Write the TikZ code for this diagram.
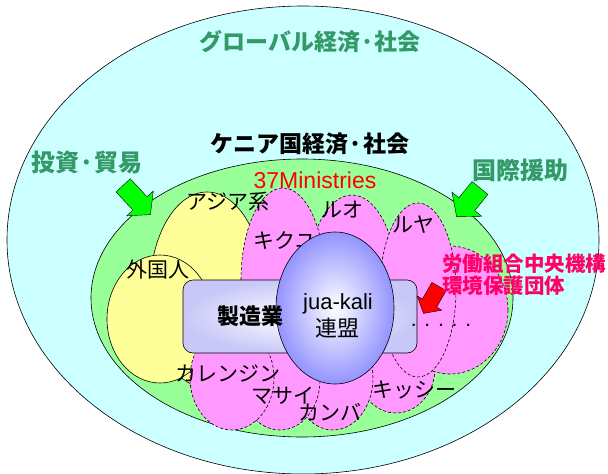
\documentclass[tikz,border=0pt]{standalone}
\usepackage{fontspec}
\setmainfont{Liberation Sans}
\newfontfamily\jp{Noto Sans CJK JP}
\usetikzlibrary{shapes.geometric,shapes.arrows}
\definecolor{bgcyan}{HTML}{CCFFFF}
\definecolor{lgreen}{HTML}{99FF99}
\definecolor{lyellow}{HTML}{FFFF99}
\definecolor{lpink}{HTML}{FF99FF}
\definecolor{dgreen}{HTML}{339966}
\definecolor{brgreen}{HTML}{00FF00}
\definecolor{lav}{HTML}{C8C8F8}
\definecolor{bluev}{HTML}{9393FF}
\definecolor{magred}{HTML}{FF0066}
\tikzset{
  oval/.style={ellipse, inner sep=0pt, draw=black, line width=0.6pt},
  tribe/.style={oval, fill=lpink, dash pattern=on 3pt off 2pt},
  blockarrow/.style={single arrow, draw=black, line width=0.4pt, inner xsep=0pt,
    single arrow tip angle=100},
  greenlabel/.style={text=dgreen, font=\jp\bfseries\fontsize{24}{26}\selectfont, inner sep=0pt},
  titlelabel/.style={font=\jp\bfseries\fontsize{23}{25}\selectfont, inner sep=0pt},
  tribelabel/.style={font=\jp\fontsize{21}{23}\selectfont, inner sep=0pt},
  ngolabel/.style={text=magred, font=\jp\bfseries\fontsize{20.5}{22}\selectfont, inner sep=0pt, anchor=west},
}
\begin{document}
\begin{tikzpicture}[x=1pt,y=-1pt]
\useasboundingbox (0,0) rectangle (608,474);
\fill[white] (0,0) rectangle (608,474);
% outer and inner economies
\node[oval, fill=bgcyan, minimum width=592pt, minimum height=468pt] (world) at (303,240) {};
\node[oval, fill=lgreen, minimum width=422pt, minimum height=278pt] (kenya) at (302,298) {};
% inflow arrows
\node[blockarrow, fill=brgreen, minimum height=40pt, inner ysep=9.5pt, single arrow head extend=8.5pt, rotate=-47] (arrL) at (134,197) {};
\node[blockarrow, fill=brgreen, minimum height=37pt, inner ysep=10pt, single arrow head extend=9pt, rotate=-129] (arrR) at (471,199) {};
% foreigners
\node[oval, fill=lyellow, minimum width=114pt, minimum height=196pt] (asian) at (207,290) {};
\node[oval, fill=lyellow, minimum width=106pt, minimum height=128pt] (foreign) at (160,319) {};
% ethnic groups
\node[tribe, minimum width=90pt, minimum height=180pt] (luo) at (352,285) {};
\node[tribe, minimum width=84pt, minimum height=184pt] (kikuyu) at (283,280) {};
\node[tribe, minimum width=78pt, minimum height=90pt] (kisii) at (396,368) {};
\node[tribe, minimum width=116pt, minimum height=128pt] (others) at (450,310) {};
\node[tribe, minimum width=76pt, minimum height=174pt] (luhya) at (418,290) {};
\node[tribe, minimum width=80pt, minimum height=104pt] (kamba) at (333,378) {};
\node[tribe, minimum width=80pt, minimum height=100pt] (masai) at (280,380) {};
\node[tribe, minimum width=84pt, minimum height=104pt] (kalenjin) at (232,378) {};
\node[tribelabel] (tkikuyu) at (285,240) {キクユ};
% manufacturing and jua-kali
\node[draw=black, line width=0.6pt, rounded corners=10pt, inner color=white, outer color=lav,
  minimum width=234pt, minimum height=73pt, inner sep=0pt] (manu) at (300,316.5) {};
\node[oval, inner color=white, outer color=bluev, minimum width=118pt, minimum height=152pt] (jua) at (335,308) {};
% red pointer
\node[blockarrow, fill=red, minimum height=31pt, inner ysep=8pt, single arrow head extend=6pt, rotate=-120] (arrN) at (433,297) {};
% labels
\node[titlelabel, text=dgreen] (tglobal) at (310,42) {グローバル経済·社会};
\node[titlelabel] (tkenya) at (310,144) {ケニア国経済·社会};
\node[greenlabel] (tinvest) at (87,162) {投資·貿易};
\node[greenlabel] (taid) at (520,170) {国際援助};
\node[text=red, font=\fontsize{23}{25}\selectfont, inner sep=0pt] (tmin) at (315,180) {37Ministries};
\node[tribelabel] (tasian) at (228,202) {アジア系};
\node[tribelabel] (tforeign) at (158,270) {外国人};
\node[tribelabel] (tluo) at (342,210) {ルオ};
\node[tribelabel] (tluhya) at (413,225) {ルヤ};
\node[tribelabel] (tkalenjin) at (228,374) {カレンジン};
\node[tribelabel] (tmasai) at (283,396) {マサイ};
\node[tribelabel] (tkamba) at (330,412) {カンバ};
\node[tribelabel] (tkisii) at (414,390) {キッシー};
\node[font=\fontsize{21}{23}\selectfont, inner sep=0pt, anchor=base] (tdots) at (441,326) {. . . . .};
\node[font=\jp\bfseries\fontsize{22}{24}\selectfont, inner sep=0pt] (tmanu) at (250,316) {製造業};
\node[font=\fontsize{22}{24}\selectfont, inner sep=0pt, anchor=base] (tjua) at (338,309) {jua-kali};
\node[font=\jp\fontsize{22}{24}\selectfont, inner sep=0pt] (tleague) at (337,328) {連盟};
\node[ngolabel] (tunion) at (442,264) {労働組合中央機構};
\node[ngolabel] (tenv) at (442,286) {環境保護団体};
\end{tikzpicture}
\end{document}
